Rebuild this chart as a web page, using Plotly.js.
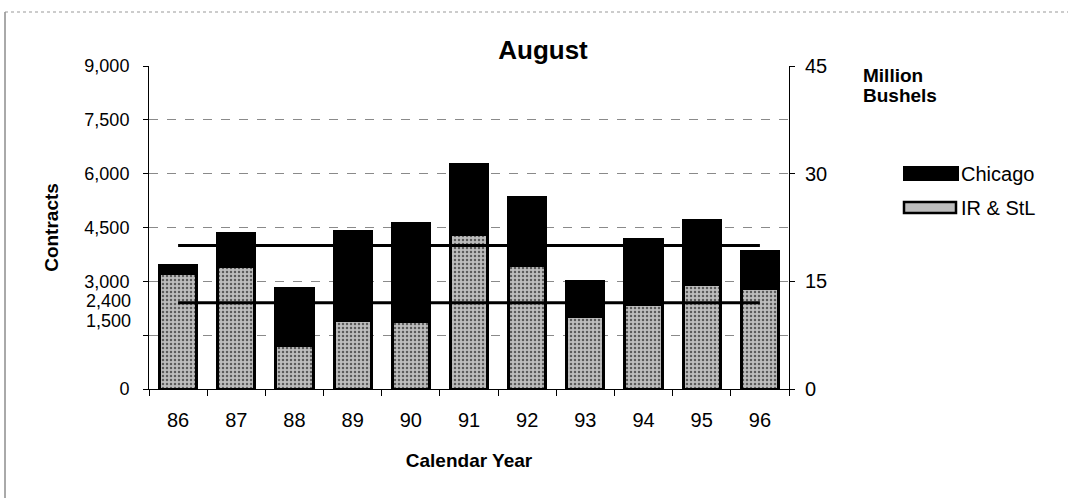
<!DOCTYPE html>
<html>
<head>
<meta charset="utf-8">
<script src="https://cdn.plot.ly/plotly-3.0.1.min.js"></script>
<style>
  html, body { margin: 0; padding: 0; background: #fff; }
  #chart { width: 1068px; height: 498px; }
</style>
</head>
<body>
<div id="chart"></div>
<script>
// ---- data ----
const years = ['86', '87', '88', '89', '90', '91', '92', '93', '94', '95', '96'];
const irStl = [3220, 3400, 1200, 1900, 1870, 4300, 3450, 2030, 2350, 2900, 2800];   // contracts
const chicago = [230, 930, 1600, 2500, 2730, 1950, 1880, 970, 1820, 1800, 1020];     // contracts
const upperLine = [20, 20, 20, 20, 20, 20, 20, 20, 20, 20, 20];                       // million bushels
const lowerLine = [12, 12, 12, 12, 12, 12, 12, 12, 12, 12, 12];                       // million bushels
const leftTickVals = [0, 1500, 3000, 4500, 6000, 7500, 9000];
const leftTickText = ['0', '', '3,000', '4,500', '6,000', '7,500', '9,000'];
const rightTickVals = [0, 15, 30, 45];
const rightTickText = ['0', '15', '30', '45'];

// ---- helpers: pixel -> paper (plot area 149..789 x 66..389) ----
const L = 149, R = 789, T = 66, B = 389;
const px = v => (v - L) / (R - L);
const py = v => (B - v) / (B - T);

const FONT = 'Liberation Sans, Arial, Helvetica, sans-serif';
const grayFill = '#bdbdbd';

const traces = [
  {
    type: 'bar', name: 'IR & StL', x: years, y: irStl,
    marker: {
      color: grayFill,
      line: { color: '#000', width: 3 },
      pattern: { shape: '.', fgcolor: '#5a5a5a', bgcolor: grayFill, size: 4, solidity: 0.3 }
    },
    hoverinfo: 'x+y'
  },
  {
    type: 'bar', name: 'Chicago', x: years, y: chicago,
    marker: { color: '#000', line: { color: '#000', width: 3 } },
    hoverinfo: 'x+y'
  },
  {
    type: 'scatter', mode: 'lines', name: 'Upper level', x: years, y: upperLine, yaxis: 'y2',
    line: { color: '#000', width: 3 }, showlegend: false
  },
  {
    type: 'scatter', mode: 'lines', name: 'Lower level', x: years, y: lowerLine, yaxis: 'y2',
    line: { color: '#000', width: 3 }, showlegend: false
  }
];

const layout = {
  width: 1068, height: 498,
  margin: { l: L, r: 1068 - R, t: T, b: 498 - B, pad: 0 },
  paper_bgcolor: '#fff', plot_bgcolor: '#fff',
  barmode: 'stack', bargap: 0.36,
  showlegend: false,
  font: { family: FONT, size: 20, color: '#000' },
  title: {
    text: 'August',
    font: { family: FONT, size: 26, weight: 'bold', color: '#000' },
    xref: 'container', x: 543 / 1068, xanchor: 'center',
    yref: 'container', y: 1 - 50 / 498, yanchor: 'middle'
  },
  xaxis: {
    type: 'category', range: [-0.5, 10.5],
    tickson: 'boundaries', ticks: 'outside', ticklen: 6, tickcolor: '#000', tickwidth: 1,
    showline: true, linecolor: '#000', linewidth: 1,
    showgrid: false, zeroline: false,
    tickfont: { family: FONT, size: 20 },
    ticklabelstandoff: 13,
    title: { text: 'Calendar Year', font: { family: FONT, size: 19, weight: 'bold' }, standoff: 23 }
  },
  yaxis: {
    range: [0, 9000], tickmode: 'array', tickvals: leftTickVals, ticktext: leftTickText,
    ticks: 'outside', ticklen: 5, tickcolor: '#000',
    showline: true, linecolor: '#000', linewidth: 1,
    showgrid: true, gridcolor: '#8a8a8a', griddash: 'dash', gridwidth: 1,
    zeroline: false,
    tickfont: { family: FONT, size: 18 },
    ticklabelstandoff: 10,
    title: { text: 'Contracts', font: { family: FONT, size: 19, weight: 'bold' }, standoff: 20 }
  },
  yaxis2: {
    overlaying: 'y', side: 'right', anchor: 'x',
    range: [0, 45], tickmode: 'array', tickvals: rightTickVals, ticktext: rightTickText,
    ticks: 'outside', ticklen: 5, tickcolor: '#000',
    showline: true, linecolor: '#000', linewidth: 1,
    showgrid: false, zeroline: false,
    tickfont: { family: FONT, size: 20 },
    ticklabelstandoff: 6
  },
  shapes: [
    // chart frame (left and top edges)
    { type: 'line', xref: 'paper', yref: 'paper', x0: px(5), x1: px(5), y0: py(12), y1: py(498),
      line: { color: '#555', width: 1 } },
    { type: 'line', xref: 'paper', yref: 'paper', x0: px(5), x1: px(1068), y0: py(12), y1: py(12),
      line: { color: '#999', width: 1, dash: 'dot' } },
    // legend swatches
    { type: 'rect', xref: 'paper', yref: 'paper', x0: px(904), x1: px(958), y0: py(167), y1: py(180),
      fillcolor: '#000', line: { color: '#000', width: 2 } },
    { type: 'rect', xref: 'paper', yref: 'paper', x0: px(904), x1: px(956), y0: py(202), y1: py(213),
      fillcolor: grayFill, line: { color: '#000', width: 2.5 } }
  ],
  annotations: [
    // manually placed left-axis labels, as in the reference
    { xref: 'paper', yref: 'paper', x: px(133), y: py(301), xanchor: 'right', yanchor: 'middle',
      text: '2,400', showarrow: false, font: { family: FONT, size: 18 } },
    { xref: 'paper', yref: 'paper', x: px(133), y: py(321), xanchor: 'right', yanchor: 'middle',
      text: '1,500', showarrow: false, font: { family: FONT, size: 18 } },
    // right axis title
    { xref: 'paper', yref: 'paper', x: px(861), y: py(75), xanchor: 'left', yanchor: 'middle',
      text: 'Million', showarrow: false, font: { family: FONT, size: 19, weight: 'bold' } },
    { xref: 'paper', yref: 'paper', x: px(861), y: py(96), xanchor: 'left', yanchor: 'middle',
      text: 'Bushels', showarrow: false, font: { family: FONT, size: 19, weight: 'bold' } },
    // legend labels
    { xref: 'paper', yref: 'paper', x: px(959), y: py(174), xanchor: 'left', yanchor: 'middle',
      text: 'Chicago', showarrow: false, font: { family: FONT, size: 20 } },
    { xref: 'paper', yref: 'paper', x: px(959), y: py(208), xanchor: 'left', yanchor: 'middle',
      text: 'IR &amp; StL', showarrow: false, font: { family: FONT, size: 20 } }
  ]
};

Plotly.newPlot('chart', traces, layout, { displayModeBar: false, staticPlot: true });
</script>
</body>
</html>
